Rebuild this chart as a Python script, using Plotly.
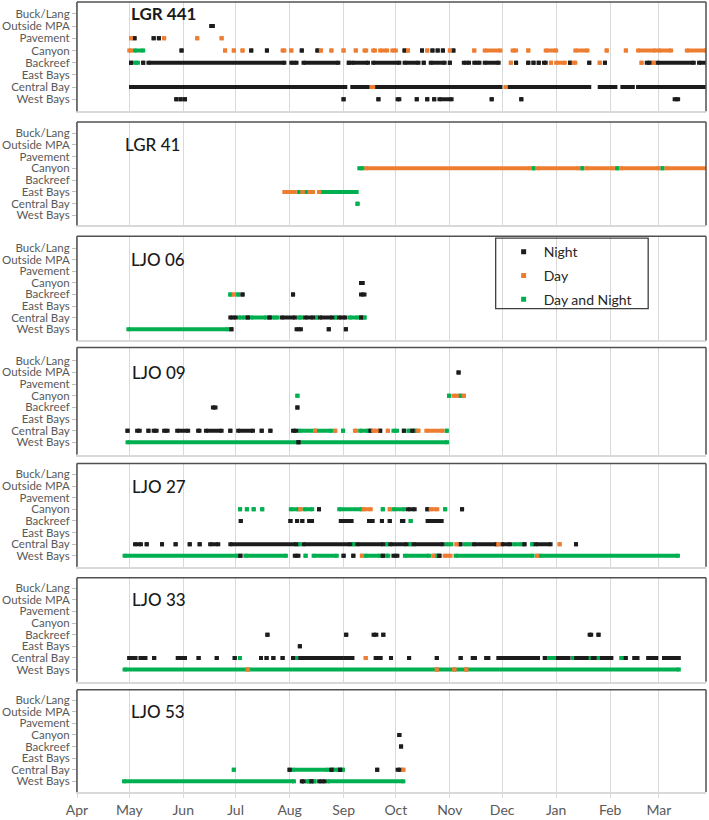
import pandas as pd
import plotly.graph_objects as go

# ---------------- data ----------------
CATEGORIES = ["Buck/Lang", "Outside MPA", "Pavement", "Canyon",
              "Backreef", "East Bays", "Central Bay", "West Bays"]
CAT_CODES = ["BL", "OM", "PV", "CY", "BR", "EB", "CB", "WB"]
MONTHS = ["Apr", "May", "Jun", "Jul", "Aug", "Sep", "Oct", "Nov", "Dec", "Jan", "Feb", "Mar"]
MONTH_STARTS = ["2016-04-01", "2016-05-01", "2016-06-01", "2016-07-01", "2016-08-01",
                "2016-09-01", "2016-10-01", "2016-11-01", "2016-12-01", "2017-01-01",
                "2017-02-01", "2017-03-01"]
SEASON_START = "2016-04-01"   # day 0 of the detection record
SEASON_END = "2017-03-28"
TYPE_NAMES = {"N": "Night", "D": "Day", "B": "Day and Night"}
PANEL_NAMES = ["LGR 441", "LGR 41", "LJO 06", "LJO 09", "LJO 27", "LJO 33", "LJO 53"]

# detection runs: (location, type, first day, last day) ; days since 1 Apr
LGR_441 = [
    ("OM", "N", 77, 78),
    ("PV", "D", 31), ("PV", "N", 33), ("PV", "N", 44), ("PV", "N", 47), ("PV", "D", 50),
    ("PV", "D", 69), ("PV", "D", 83),
    ("CY", "D", 30, 31), ("CY", "B", 33, 38), ("CY", "N", 60), ("CY", "D", 85), ("CY", "D", 90),
    ("CY", "D", 95), ("CY", "N", 100), ("CY", "N", 109), ("CY", "D", 118, 119), ("CY", "D", 123),
    ("CY", "N", 129), ("CY", "N", 138), ("CY", "D", 140), ("CY", "D", 146), ("CY", "D", 153),
    ("CY", "D", 160), ("CY", "D", 165, 166), ("CY", "D", 170, 171), ("CY", "D", 174, 178),
    ("CY", "D", 181, 183), ("CY", "N", 188), ("CY", "D", 190), ("CY", "N", 198), ("CY", "D", 201),
    ("CY", "N", 204), ("CY", "N", 207), ("CY", "N", 210), ("CY", "D", 214), ("CY", "N", 216),
    ("CY", "D", 228), ("CY", "D", 234, 243), ("CY", "D", 250, 252), ("CY", "D", 259),
    ("CY", "D", 269, 275), ("CY", "D", 286, 293), ("CY", "D", 304), ("CY", "D", 315),
    ("CY", "D", 322, 332), ("CY", "D", 334, 341), ("CY", "D", 350, 361),
    ("BR", "N", 31), ("BR", "B", 33, 35), ("BR", "N", 38), ("BR", "N", 41, 119), ("BR", "N", 123, 126),
    ("BR", "N", 130, 150), ("BR", "N", 156), ("BR", "N", 158, 167), ("BR", "N", 170, 185),
    ("BR", "N", 188, 196), ("BR", "N", 199), ("BR", "N", 203, 211), ("BR", "N", 214),
    ("BR", "N", 222, 225), ("BR", "N", 228, 231), ("BR", "N", 234, 242), ("BR", "D", 249),
    ("BR", "N", 252), ("BR", "N", 259), ("BR", "N", 262), ("BR", "N", 265), ("BR", "N", 268, 269),
    ("BR", "D", 272), ("BR", "D", 275, 280), ("BR", "N", 283), ("BR", "D", 285, 286), ("BR", "N", 294),
    ("BR", "D", 300), ("BR", "N", 303), ("BR", "D", 324), ("BR", "N", 327, 329), ("BR", "D", 331),
    ("BR", "N", 333, 354), ("BR", "N", 357, 362),
    ("CB", "N", 31, 154), ("CB", "N", 158, 167), ("CB", "D", 169, 170), ("CB", "N", 172, 243),
    ("CB", "D", 246), ("CB", "N", 248, 294), ("CB", "N", 300, 309), ("CB", "N", 313, 319),
    ("CB", "N", 322, 362),
    ("WB", "N", 57), ("WB", "N", 59.5), ("WB", "N", 62), ("WB", "N", 153), ("WB", "N", 173),
    ("WB", "N", 184, 185), ("WB", "N", 195), ("WB", "N", 201), ("WB", "N", 205), ("WB", "N", 208, 215),
    ("WB", "N", 238), ("WB", "N", 255), ("WB", "N", 343, 345),
]
LGR_41 = [
    ("CY", "B", 162, 164), ("CY", "D", 166, 259.7), ("CY", "B", 262), ("CY", "D", 264.3, 287.7),
    ("CY", "B", 290), ("CY", "D", 292.3, 307.7), ("CY", "B", 310), ("CY", "D", 312.3, 333.7),
    ("CY", "B", 336), ("CY", "D", 338.3, 362),
    ("EB", "D", 119, 125), ("EB", "B", 127.5), ("EB", "D", 129.5), ("EB", "B", 131.5),
    ("EB", "D", 133.5, 135.5), ("EB", "D", 139), ("EB", "B", 141, 160.5),
    ("CB", "B", 161),
]
LJO_06 = [
    ("CY", "N", 163, 164),
    ("BR", "B", 88), ("BR", "D", 90), ("BR", "B", 92.5), ("BR", "N", 95), ("BR", "N", 124),
    ("BR", "N", 163, 165),
    ("CB", "N", 88, 91), ("CB", "B", 93, 96), ("CB", "N", 98), ("CB", "B", 100, 108.5),
    ("CB", "N", 110.5), ("CB", "B", 112.5, 115), ("CB", "N", 117.5, 125), ("CB", "B", 127, 129),
    ("CB", "N", 131, 135.5), ("CB", "B", 137.5), ("CB", "N", 139.5, 146.5), ("CB", "B", 148.6),
    ("CB", "N", 150.5, 154), ("CB", "B", 156.5, 161), ("CB", "N", 163), ("CB", "B", 165),
    ("WB", "B", 29.5, 86.5), ("WB", "N", 88.6), ("WB", "N", 126, 128.5), ("WB", "N", 144.5),
    ("WB", "N", 154.3),
]
LJO_09 = [
    ("OM", "N", 219),
    ("CY", "B", 126.5), ("CY", "B", 213.5), ("CY", "D", 216, 218), ("CY", "B", 220), ("CY", "D", 222),
    ("BR", "N", 78, 79.5), ("BR", "N", 126.5),
    ("CB", "N", 29), ("CB", "N", 34.5, 36), ("CB", "N", 41), ("CB", "N", 44, 45.7), ("CB", "N", 50, 52),
    ("CB", "N", 57.5, 63.8), ("CB", "N", 69.5, 70.3), ("CB", "N", 74, 83), ("CB", "N", 88),
    ("CB", "N", 92.5, 101), ("CB", "N", 106), ("CB", "N", 111), ("CB", "N", 124, 125.8),
    ("CB", "B", 127.5, 146), ("CB", "D", 136.6), ("CB", "D", 148.2), ("CB", "B", 152.7),
    ("CB", "D", 159.5, 160.2), ("CB", "B", 162.5, 167), ("CB", "N", 168.5), ("CB", "D", 170, 172),
    ("CB", "N", 174), ("CB", "D", 178.4), ("CB", "B", 181.6, 183.7), ("CB", "N", 187.6),
    ("CB", "B", 190.3), ("CB", "N", 192.5), ("CB", "B", 194.2), ("CB", "D", 195.9),
    ("CB", "D", 200.5, 209.8), ("CB", "B", 212.2),
    ("WB", "B", 29, 212.4), ("WB", "N", 127.1),
]
LJO_27 = [
    ("CY", "B", 93.6), ("CY", "B", 97.5), ("CY", "B", 101.4), ("CY", "B", 106.3), ("CY", "B", 122.7, 127),
    ("CY", "D", 128.2), ("CY", "B", 130.5, 135), ("CY", "N", 138.9), ("CY", "B", 150.5, 163.3),
    ("CY", "D", 164.5, 168.6), ("CY", "B", 175.5), ("CY", "D", 179.5), ("CY", "B", 181.6, 187.8),
    ("CY", "N", 190, 193.8), ("CY", "N", 201.1), ("CY", "D", 203, 206.8), ("CY", "B", 211.3),
    ("CY", "N", 221),
    ("BR", "N", 94), ("BR", "N", 122.5), ("BR", "N", 126.3), ("BR", "N", 129.3), ("BR", "N", 133.2, 134.9),
    ("BR", "N", 151.4, 157.6), ("BR", "N", 167.6, 169.7), ("BR", "N", 175), ("BR", "N", 179.5),
    ("BR", "N", 186.5, 187.3), ("BR", "B", 191.5), ("BR", "N", 201.2, 209.3),
    ("CB", "N", 33.3, 36.7), ("CB", "N", 40), ("CB", "N", 48.8), ("CB", "N", 56.6), ("CB", "N", 64.7),
    ("CB", "N", 70.4), ("CB", "N", 76.4, 81.1), ("CB", "N", 88, 125.8), ("CB", "B", 127.3),
    ("CB", "N", 129.9, 156.8), ("CB", "B", 158.9), ("CB", "N", 160.9, 175.7), ("CB", "B", 177.7),
    ("CB", "N", 179.8, 189.1), ("CB", "B", 191.2), ("CB", "N", 193.2, 209.8), ("CB", "B", 212, 214.9),
    ("CB", "D", 217.8), ("CB", "N", 220), ("CB", "B", 222.4, 225.3), ("CB", "N", 227.6, 240.8),
    ("CB", "D", 241.9), ("CB", "N", 243.9, 248.6), ("CB", "B", 250.9, 255), ("CB", "N", 256.8),
    ("CB", "B", 261.3), ("CB", "N", 263.2, 271.8), ("CB", "D", 277), ("CB", "N", 286.4),
    ("WB", "B", 27.3, 92), ("WB", "N", 93.8), ("WB", "B", 96.6, 119.9), ("WB", "N", 125, 127.1),
    ("WB", "B", 131.2), ("WB", "B", 135.8, 149.1), ("WB", "N", 153), ("WB", "N", 158.6),
    ("WB", "D", 163.5), ("WB", "B", 165.5, 173.6), ("WB", "N", 175.5), ("WB", "B", 177.4, 178.7),
    ("WB", "N", 181.6, 183.9), ("WB", "B", 188.2, 202), ("WB", "D", 204.5), ("WB", "B", 206.2),
    ("WB", "N", 208), ("WB", "D", 211, 214.4), ("WB", "B", 217.3, 261.5), ("WB", "D", 264),
    ("WB", "B", 265.8, 344.9),
]
LJO_33 = [
    ("BR", "N", 109.3), ("BR", "N", 154.5), ("BR", "N", 170.2, 171.8), ("BR", "N", 175.8),
    ("BR", "N", 294.2, 295.1), ("BR", "N", 299.3),
    ("EB", "N", 127.9),
    ("CB", "N", 29.9, 33.6), ("CB", "N", 36.4, 39.3), ("CB", "N", 44.3), ("CB", "N", 57.8, 62),
    ("CB", "N", 69.8), ("CB", "N", 80.2), ("CB", "N", 90.5), ("CB", "B", 93.5), ("CB", "N", 105.6),
    ("CB", "N", 108.8), ("CB", "N", 112.7), ("CB", "N", 118), ("CB", "N", 124), ("CB", "B", 125.9),
    ("CB", "N", 128.1, 146), ("CB", "N", 148, 152), ("CB", "N", 154, 158.1), ("CB", "D", 165.7),
    ("CB", "N", 171.4, 174.3), ("CB", "N", 180.2), ("CB", "N", 190.6), ("CB", "N", 206.5),
    ("CB", "N", 220.2), ("CB", "N", 227.1, 228.4), ("CB", "N", 234.8, 236.1), ("CB", "N", 241.8, 264.6),
    ("CB", "N", 268.5), ("CB", "B", 270.8, 274.9), ("CB", "N", 276.1, 282.1), ("CB", "B", 284.6),
    ("CB", "N", 286.5, 292.5), ("CB", "B", 294.3), ("CB", "N", 296, 297.1), ("CB", "B", 299.2),
    ("CB", "N", 301.3, 306.7), ("CB", "B", 312.5), ("CB", "N", 314.9), ("CB", "N", 319.8, 321.7),
    ("CB", "N", 327.8, 332.5), ("CB", "N", 336.9, 345.4),
    ("WB", "B", 27.3, 345.4), ("WB", "D", 98), ("WB", "D", 206.5), ("WB", "D", 216.6), ("WB", "D", 223.4),
]
LJO_53 = [
    ("CY", "N", 185), ("BR", "N", 186),
    ("CB", "B", 90), ("CB", "N", 122), ("CB", "B", 124, 144), ("CB", "N", 146), ("CB", "B", 147, 150),
    ("CB", "N", 151), ("CB", "B", 152.5), ("CB", "N", 172.3), ("CB", "N", 184, 185.5), ("CB", "D", 187.3),
    ("WB", "B", 27, 124.5), ("WB", "N", 129, 130), ("WB", "B", 132, 133), ("WB", "N", 134.5),
    ("WB", "B", 136.3), ("WB", "N", 139, 142), ("WB", "B", 144, 187.3),
]
PANEL_RUNS = [LGR_441, LGR_41, LJO_06, LJO_09, LJO_27, LJO_33, LJO_53]

# ---------------- style ----------------
COLORS = {"N": "#1c1c1c", "D": "#ED7D31", "B": "#00B050"}
DRAW_ORDER = ["B", "N", "D"]
FONT = "Lato, 'Open Sans', sans-serif"
TEXT_COLOR = "#595959"
FRAME_COLOR = "#505050"
GRID_COLOR = "#d9d9d9"
AXIS_COLOR = "#bfbfbf"

W, H = 709, 820
ML, MR, MT, MB = 75, 3, 2, 22
PH = H - MT - MB
PW = W - ML - MR
# panel (top, bottom) pixel positions and y ranges
PANEL_PX = [(2, 112), (123, 227), (238, 343), (350, 458), (467, 571), (582, 687), (695, 798)]
Y_RANGES = [(-0.98, 7.98), (-0.84, 7.93), (-0.97, 8.03), (-1.05, 8.15), (-0.94, 7.94),
            (-1.05, 7.9), (-0.92, 7.9)]
TITLE_X_PX = [127, 121, 127, 128, 128, 128, 127]

cat_index = {c: 7 - i for i, c in enumerate(CAT_CODES)}   # West Bays at bottom
start = pd.Timestamp(SEASON_START)


def to_date(d):
    return start + pd.Timedelta(days=float(d))


fig = go.Figure()
n = len(PANEL_NAMES)
for i, runs in enumerate(PANEL_RUNS):
    k = "" if i == 0 else str(i + 1)
    for t in DRAW_ORDER:
        xs, ys = [], []
        for r in runs:
            if r[1] != t:
                continue
            s = r[2]
            e = r[3] if len(r) > 3 else r[2]
            yv = cat_index[r[0]]
            xs += [to_date(s), to_date(e), None]
            ys += [yv, yv, None]
        fig.add_trace(go.Scatter(
            x=xs, y=ys, xaxis="x" + k, yaxis="y" + k, mode="lines+markers",
            line=dict(color=COLORS[t], width=4),
            marker=dict(symbol="square", size=4, color=COLORS[t]),
            showlegend=False, hoverinfo="skip", connectgaps=False))

# legend entries
for gi, t in enumerate(["N", "D", "B"]):
    fig.add_trace(go.Scatter(
        x=[None], y=[None], mode="markers", name=TYPE_NAMES[t], legendgroup=t,
        marker=dict(symbol="square", size=5, color=COLORS[t]), showlegend=True,
        xaxis="x3", yaxis="y3"))

layout = dict(
    width=W, height=H, margin=dict(l=ML, r=MR, t=MT, b=MB),
    paper_bgcolor="white", plot_bgcolor="white", hovermode=False,
    font=dict(family=FONT, color=TEXT_COLOR),
    showlegend=True,
    legend=dict(x=(503 - ML) / PW, y=(MT + PH - 238) / PH, xanchor="left", yanchor="top",
                bgcolor="rgba(0,0,0,0)", borderwidth=0, tracegroupgap=2.5,
                font=dict(family=FONT, size=14, color="#262626")),
)
shapes = []
annotations = []
for i in range(n):
    k = "" if i == 0 else str(i + 1)
    top, bot = PANEL_PX[i]
    dom = [(MT + PH - bot) / PH, (MT + PH - top) / PH]
    last = i == n - 1
    layout["xaxis" + k] = dict(
        domain=[0, 1], anchor="y" + k, type="date",
        range=[SEASON_START, SEASON_END],
        tickvals=MONTH_STARTS, ticktext=MONTHS,
        showgrid=True, gridcolor=GRID_COLOR, gridwidth=1,
        showline=True, linecolor=GRID_COLOR, linewidth=1.5,
        ticks="outside" if last else "", ticklen=4, tickcolor=GRID_COLOR,
        showticklabels=last, zeroline=False,
        tickfont=dict(family=FONT, size=14, color=TEXT_COLOR),
    )
    layout["yaxis" + k] = dict(
        domain=dom, anchor="x" + k, range=list(Y_RANGES[i]),
        tickvals=list(range(8)), ticktext=CATEGORIES[::-1],
        showgrid=False, zeroline=False,
        showline=True, linecolor=AXIS_COLOR, linewidth=1,
        ticks="outside", ticklen=4, tickcolor=AXIS_COLOR,
        tickfont=dict(family=FONT, size=11.5, color=TEXT_COLOR),
    )
    xr, yr = "x" + k + " domain", "y" + k + " domain"
    for (x0, y0, x1, y1) in [(0, 1, 1, 1), (1, 0, 1, 1), (0, 0, 0, 1)]:
        shapes.append(dict(type="line", xref=xr, yref=yr, x0=x0, y0=y0, x1=x1, y1=y1,
                           line=dict(color=FRAME_COLOR, width=1.5)))
    annotations.append(dict(
        text=PANEL_NAMES[i],
        xref=xr, yref="y" + k, x=(TITLE_X_PX[i] - ML) / PW,
        y=7 if i == 0 else 6, xanchor="left", yanchor="middle", showarrow=False,
        font=dict(family=FONT, size=17, color="#1a1a1a", weight=700 if i == 0 else 500)))

# legend box
shapes.append(dict(type="rect", xref="paper", yref="paper",
                   x0=(495 - ML) / PW, x1=(648 - ML) / PW,
                   y0=(MT + PH - 311) / PH, y1=(MT + PH - 240) / PH,
                   line=dict(color="#404040", width=1.3), fillcolor="rgba(0,0,0,0)"))

layout["shapes"] = shapes
layout["annotations"] = annotations
fig.update_layout(**layout)
fig.write_html("out.html")
